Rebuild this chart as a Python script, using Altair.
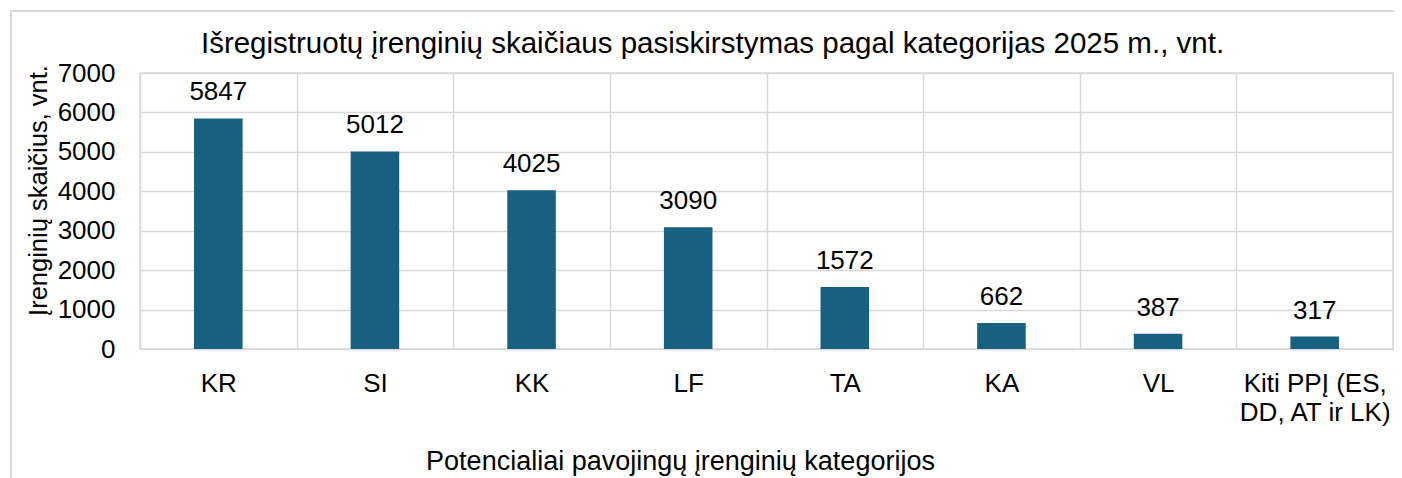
import altair as alt
import pandas as pd

categories = ["KR", "SI", "KK", "LF", "TA", "KA", "VL", "Kiti PPĮ (ES, DD, AT ir LK)"]
values = [5847, 5012, 4025, 3090, 1572, 662, 387, 317]
y_ticks = [0, 1000, 2000, 3000, 4000, 5000, 6000, 7000]

title_text = "Išregistruotų įrenginių skaičiaus pasiskirstymas pagal kategorijas 2025 m., vnt."
x_title = "Potencialiai pavojingų įrenginių kategorijos"
y_title = "Įrenginių skaičius, vnt."

df = pd.DataFrame({"kategorija": categories, "skaicius": values})

FONT = "Liberation Sans"
GRID = "#d9d9d9"
BAR = "#17607f"

label_expr = ("datum.value == 'Kiti PPĮ (ES, DD, AT ir LK)' ? "
              "['Kiti PPĮ (ES,', 'DD, AT ir LK)'] : datum.value")

x_enc = alt.X(
    "kategorija:N",
    sort=categories,
    scale=alt.Scale(paddingInner=0, paddingOuter=0),
    axis=alt.Axis(
        title=x_title, labelAngle=0, grid=True, tickBand="extent",
        domain=False, ticks=False, labelPadding=21, labelFontSize=26,
        labelLineHeight=29, labelExpr=label_expr, labelOverlap=False,
        titleFontSize=27, titleFontWeight="normal", titleX=540, titleY=120,
        titleBaseline="alphabetic", titleAlign="center",
    ),
)
y_enc = alt.Y(
    "skaicius:Q",
    scale=alt.Scale(domain=[0, 7000], nice=False),
    axis=alt.Axis(
        title=y_title, values=y_ticks, tickCount=20, format="d", grid=True, domain=False,
        ticks=False, labelPadding=25, labelFontSize=26, labelOverlap=False,
        titleFontSize=25.5, titleFontWeight="normal", titleX=-102, titleY=117,
        titleAngle=270, titleBaseline="middle", titleAlign="center",
    ),
)

base = alt.Chart(df).encode(x=x_enc, y=y_enc)
bars = base.mark_bar(color=BAR, width=alt.RelativeBandSize(0.31))
labels = base.mark_text(fontSize=26, font=FONT, baseline="alphabetic", dy=-18, color="black").encode(
    text=alt.Text("skaicius:Q", format="d")
)
frame_df = pd.DataFrame({"b": [0]})
border_top = alt.Chart(frame_df).mark_rule(stroke=GRID, strokeWidth=2).encode(
    x=alt.value(-130), x2=alt.value(1290), y=alt.value(-62)
)
border_left = alt.Chart(frame_df).mark_rule(stroke=GRID, strokeWidth=2).encode(
    x=alt.value(-129), y=alt.value(-63), y2=alt.value(420)
)

chart = alt.layer(border_top, border_left, bars, labels).properties(
    width=1253, height=276,
    title=alt.TitleParams(
        text=title_text, fontSize=29.5, font=FONT, fontWeight="normal", color="black",
        anchor="middle", baseline="alphabetic", dx=-54, dy=73, offset=0,
    ),
    autosize=alt.AutoSizeParams(type="none"),
    padding={"left": 132, "top": 65, "right": 1, "bottom": 129},
).configure_view(stroke=GRID, strokeWidth=1.5).configure_axis(
    gridColor=GRID, gridWidth=1.5, labelFont=FONT, titleFont=FONT,
    labelColor="black", titleColor="black",
)

chart.save("out.html", embed_options={"renderer": "svg", "actions": False})
